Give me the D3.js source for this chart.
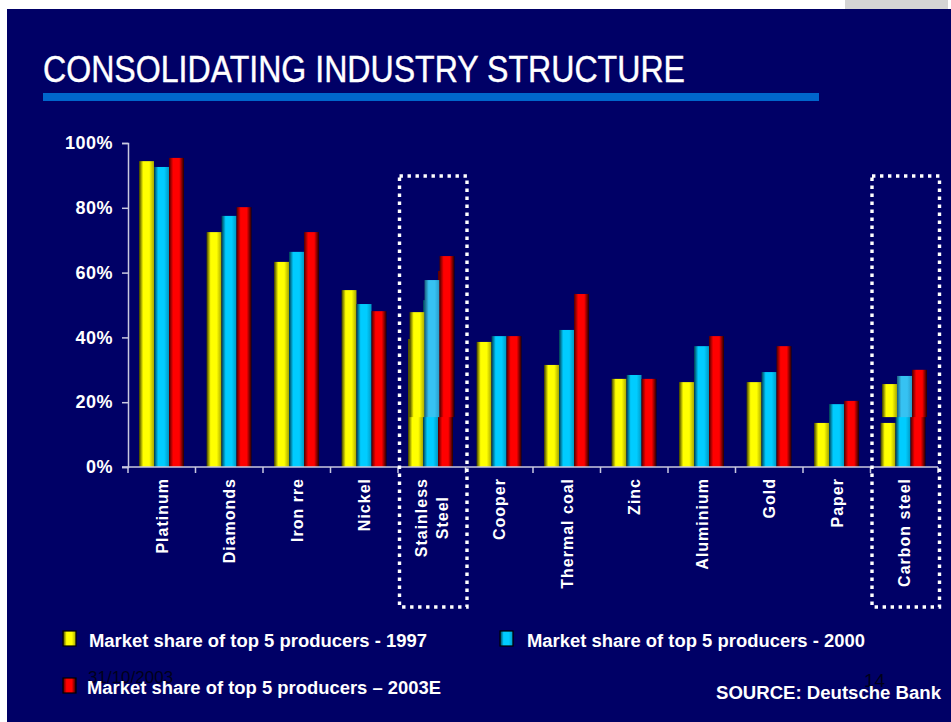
<!DOCTYPE html>
<html>
<head>
<meta charset="utf-8">
<script src="https://cdn.jsdelivr.net/npm/d3@7/dist/d3.min.js"></script>
<style>
  html, body { margin: 0; padding: 0; background: #ffffff; }
  svg { display: block; }
  text { font-family: "Liberation Sans", Arial, Helvetica, sans-serif; }
</style>
</head>
<body>
<svg id="chart" width="951" height="722"></svg>
<script>
// Market share of the top 5 producers, by commodity (%)
const categories = ["Platinum", "Diamonds", "Iron rre", "Nickel", "Stainless\nSteel", "Cooper",
                    "Thermal coal", "Zinc", "Aluminium", "Gold", "Paper", "Carbon steel"];
const share1997  = [94.4, 72.5, 63.3, 54.6, 47.8, 38.6, 31.5, 27.2, 26.2, 26.2, 13.6, 25.6];
const share2000  = [92.6, 77.5, 66.4, 50.3, 57.7, 40.4, 42.3, 28.4, 37.3, 29.3, 19.4, 28.1];
const share2003E = [95.4, 80.2, 72.5, 48.1, 65.1, 40.4, 53.4, 27.2, 40.4, 37.3, 20.4, 30.0];

// Steel categories were revised: earlier figures remain underneath,
// revised bars are laid over them starting from this level.
const revisedCategories = ["Stainless\nSteel", "Carbon steel"];
const prior1997  = [39.5, 13.6];
const prior2000  = [51.5, 16.0];
const prior2003E = [60.5, 17.6];
const revisedFrom = 15.4;

const seriesNames = ["Market share of top 5 producers - 1997",
                     "Market share of top 5 producers - 2000",
                     "Market share of top 5 producers \u2013 2003E"];
const yTicks = [0, 20, 40, 60, 80, 100];
const highlighted = ["Stainless\nSteel", "Carbon steel"];

const seriesKeys = ["y1997", "y2000", "y2003E"];
const seriesColors = {
  y1997:  { dark: "#3a3a00", base: "#ffff00", right: "#a8a800" },
  y2000:  { dark: "#003a4d", base: "#00ccff", right: "#0099c4" },
  y2003E: { dark: "#4a0000", base: "#ff0000", right: "#200000" }
};
const overlayColors = {
  y1997:  { dark: "#3a3a00", base: "#ffff00", right: "#a8a800" },
  y2000:  { dark: "#1a5a78", base: "#36c2f2", right: "#2a9cc8" },
  y2003E: { dark: "#4a0000", base: "#ff0000", right: "#200000" }
};

const rows = categories.map((c, i) => ({
  cat: c, y1997: share1997[i], y2000: share2000[i], y2003E: share2003E[i]
}));
const priorRows = revisedCategories.map((c, i) => ({
  cat: c, y1997: prior1997[i], y2000: prior2000[i], y2003E: prior2003E[i]
}));

const svg = d3.select("#chart");
const W = 951, H = 722;

// slide background
svg.append("rect").attr("x", 0).attr("y", 0).attr("width", W).attr("height", H).attr("fill", "#ffffff");
svg.append("rect").attr("x", 845).attr("y", 0).attr("width", 103).attr("height", 10).attr("fill", "#d4d4d4");
svg.append("rect").attr("x", 7).attr("y", 9).attr("width", W - 7).attr("height", H - 9).attr("fill", "#000066");

// gradients for the shaded bars
const defs = svg.append("defs");
function makeGrad(id, c) {
  const g = defs.append("linearGradient").attr("id", id)
    .attr("x1", "0%").attr("x2", "100%").attr("y1", "0%").attr("y2", "0%");
  g.append("stop").attr("offset", "0%").attr("stop-color", c.dark);
  g.append("stop").attr("offset", "28%").attr("stop-color", c.base);
  g.append("stop").attr("offset", "68%").attr("stop-color", c.base);
  g.append("stop").attr("offset", "100%").attr("stop-color", c.right);
}
seriesKeys.forEach(k => { makeGrad("g-" + k, seriesColors[k]); makeGrad("o-" + k, overlayColors[k]); });

// title
svg.append("text").attr("x", 43).attr("y", 82)
  .attr("fill", "#ffffff").attr("font-size", 36)
  .attr("stroke", "#ffffff").attr("stroke-width", 0.4)
  .attr("textLength", 642).attr("lengthAdjust", "spacingAndGlyphs")
  .text("CONSOLIDATING INDUSTRY STRUCTURE");
svg.append("rect").attr("x", 43).attr("y", 93).attr("width", 776).attr("height", 8).attr("fill", "#0066cc");

// scales
const x0 = d3.scaleBand().domain(categories).range([128, 938]).padding(0);
const x1 = d3.scaleBand().domain(seriesKeys).range([11, 56]).padding(0);
const y = d3.scaleLinear().domain([0, 100]).range([467, 143]);

const axisColor = "#c8c8e0";

// y axis
const yAxis = d3.axisLeft(y).tickValues(yTicks).tickFormat(d => d + "%").tickSize(6).tickPadding(9);
const gy = svg.append("g").attr("transform", "translate(128,0)").call(yAxis);
gy.select(".domain").attr("stroke", axisColor).attr("stroke-width", 1.5);
gy.selectAll(".tick line").attr("stroke", axisColor).attr("stroke-width", 1.5);
gy.selectAll(".tick text").attr("fill", "#ffffff").attr("font-size", 18).attr("font-weight", "bold")
  .attr("font-family", "Liberation Sans, Arial, sans-serif").attr("letter-spacing", 0.5);

// bars
const barsG = svg.append("g");

// earlier figures (only for the revised categories) drawn first
const priorGroups = barsG.selectAll("g.prior").data(priorRows).join("g").attr("class", "prior")
  .attr("transform", d => `translate(${x0(d.cat)},0)`);
priorGroups.selectAll("rect").data(d => seriesKeys.map(k => ({ k, v: d[k] }))).join("rect")
  .attr("x", d => x1(d.k) - 1).attr("width", x1.bandwidth())
  .attr("y", d => y(d.v)).attr("height", d => y(0) - y(d.v))
  .attr("fill", d => `url(#g-${d.k})`);

const groups = barsG.selectAll("g.cat").data(rows).join("g").attr("class", "cat")
  .attr("transform", d => `translate(${x0(d.cat)},0)`);
groups.each(function (d) {
  const g = d3.select(this);
  const revised = revisedCategories.includes(d.cat);
  const segs = seriesKeys.map(k => ({ k, v: d[k], from: revised ? revisedFrom : 0, revised }));
  g.selectAll("rect").data(segs).join("rect")
    .attr("x", s => x1(s.k) + (s.revised ? 0.5 : 0)).attr("width", x1.bandwidth())
    .attr("y", s => y(s.v)).attr("height", s => y(s.from) - y(s.v))
    .attr("fill", s => s.revised ? `url(#o-${s.k})` : `url(#g-${s.k})`);
});

// x axis
const xAxis = d3.axisBottom(x0).tickValues([]).tickSizeOuter(0);
const gx = svg.append("g").attr("transform", `translate(0,${y(0)})`).call(xAxis);
gx.select(".domain").attr("stroke", axisColor).attr("stroke-width", 1.5).attr("d", "M122,0H938");
const bounds = categories.map(c => x0(c)).concat([x0.range()[1]]);
gx.selectAll("line.sep").data(bounds).join("line").attr("class", "sep")
  .attr("x1", d => d).attr("x2", d => d).attr("y1", 0).attr("y2", 6)
  .attr("stroke", axisColor).attr("stroke-width", 1.5);

// category labels, rotated
const labelTop = 478;
categories.forEach(c => {
  const lines = c.split("\n");
  const cx = x0(c) + x0.bandwidth() / 2;
  const g = svg.append("g");
  const ts = lines.map((ln, i) => g.append("text")
    .attr("fill", "#ffffff").attr("font-size", 16).attr("font-weight", "bold")
    .attr("letter-spacing", 1).attr("text-anchor", "middle")
    .attr("x", 0).attr("y", (i - (lines.length - 1) / 2) * 21).attr("dy", "0.36em")
    .text(ln));
  const maxLen = d3.max(ts, t => t.node().getComputedTextLength());
  g.attr("transform", `translate(${cx},${labelTop + maxLen / 2}) rotate(-90)`);
});

// dotted highlight boxes
highlighted.forEach(c => {
  svg.append("rect")
    .attr("x", x0(c) + 1.5).attr("y", 176)
    .attr("width", x0.bandwidth()).attr("height", 431)
    .attr("fill", "none").attr("stroke", "#ffffff").attr("stroke-width", 3.4)
    .attr("stroke-dasharray", "3.4 4.6");
});

// slide footer (date / page number) sits beneath the legend text
svg.append("text").attr("x", 88).attr("y", 683).attr("font-family", "Liberation Serif, Times New Roman, serif")
  .attr("font-size", 17).attr("fill", "#00001a").text("31/10/2003");
svg.append("text").attr("x", 864).attr("y", 687).attr("font-family", "Liberation Serif, Times New Roman, serif")
  .attr("font-size", 19).attr("fill", "#00001a").text("14");

// legend
const legendItems = [
  { k: "y1997",  name: seriesNames[0], sx: 63, tx: 89,  ty: 647, tl: 338 },
  { k: "y2000",  name: seriesNames[1], sx: 500, tx: 527, ty: 647, tl: 338 },
  { k: "y2003E", name: seriesNames[2], sx: 63, tx: 87,  ty: 694, tl: 354 }
];
const lg = svg.append("g");
legendItems.forEach(it => {
  lg.append("rect").attr("x", it.sx).attr("y", it.ty - 16).attr("width", 13).attr("height", 15)
    .attr("fill", `url(#g-${it.k})`).attr("stroke", "#000000").attr("stroke-width", 1.2);
  lg.append("text").attr("x", it.tx).attr("y", it.ty).attr("fill", "#ffffff")
    .attr("font-size", 18).attr("font-weight", "bold")
    .attr("textLength", it.tl).attr("lengthAdjust", "spacingAndGlyphs")
    .text(it.name);
});

svg.append("text").attr("x", 716).attr("y", 699).attr("fill", "#ffffff")
  .attr("font-size", 18).attr("font-weight", "bold")
  .attr("textLength", 225).attr("lengthAdjust", "spacingAndGlyphs")
  .text("SOURCE: Deutsche Bank");
</script>
</body>
</html>
